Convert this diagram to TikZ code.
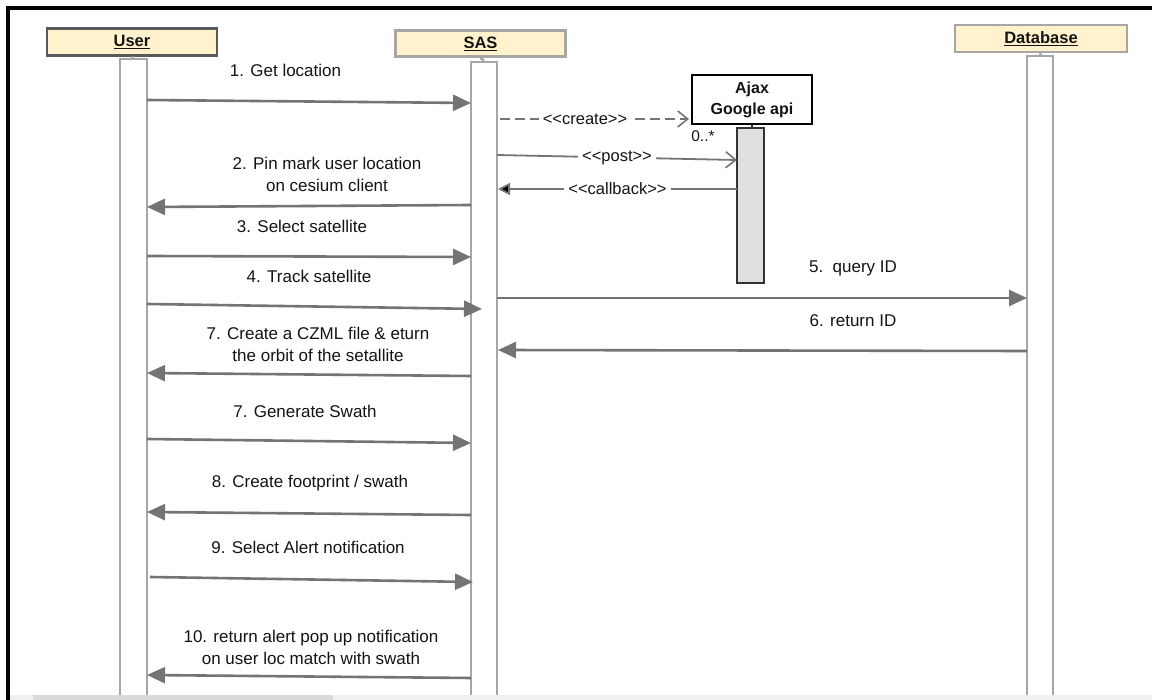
\documentclass[tikz,border=0pt]{standalone}
\usepackage{fontspec}
\setmainfont{Liberation Sans}
\usetikzlibrary{arrows.meta}
\definecolor{hdrfill}{HTML}{FFF2CC}
\definecolor{arrowgray}{HTML}{747474}
\definecolor{lifegray}{HTML}{A6A6A6}
\definecolor{actfill}{HTML}{E0E0E0}
\definecolor{txt}{HTML}{141414}
\definecolor{barlight}{HTML}{F0F0F0}
\definecolor{bardark}{HTML}{DADADA}
\tikzset{
  hdr/.style={draw=lifegray, fill=hdrfill, line width=2.5pt, rectangle, inner sep=0pt,
    font=\fontsize{16.5}{18}\selectfont\bfseries, text=txt},
  lifebox/.style={draw=lifegray, fill=white, line width=2.5pt, rectangle, inner sep=0pt, minimum width=26pt},
  stem/.style={draw=lifegray, line width=2.5pt},
  msg/.style={draw=arrowgray, line width=2.6pt, -{Triangle[length=18pt,width=16pt,fill=arrowgray]}},
  lbl/.style={font=\fontsize{17}{22}\selectfont, text=txt, align=center, inner sep=0pt},
  slbl/.style={font=\fontsize{16.5}{18}\selectfont, text=txt, fill=white, inner sep=4pt},
  openmsg/.style={draw=arrowgray, line width=1.8pt, -{Straight Barb[length=10pt,width=16pt,line width=1.6pt]}},
}
\begin{document}
\begin{tikzpicture}[x=1pt,y=-1pt]
\useasboundingbox (0,0) rectangle (1152,700);
\fill[white] (0,0) rectangle (1152,700);
% frame
\draw[black, line width=4pt] (8,700) -- (8,8) -- (1152,8);

% headers
\node[hdr, draw=black!65, minimum width=170pt, minimum height=27pt] (userh) at (132,42) {\underline{User}};
\node[hdr, minimum width=170pt, minimum height=26pt] (sash) at (480.5,43.5) {\underline{SAS}};
\node[hdr, minimum width=172pt, minimum height=27pt] (dbh) at (1041,38.5) {\underline{Database}};

% lifelines
\node[lifebox, minimum width=27pt, minimum height=650pt, anchor=north] (userl) at (133.5,58) {};
\node[lifebox, minimum height=650pt, anchor=north] (sasl) at (484,61) {};
\node[lifebox, minimum height=650pt, anchor=north] (dbl) at (1040,55) {};
\draw[stem] (userh.south) -- (userl.north);
\draw[stem] (sash.south) -- (sasl.north);
\draw[stem] (dbh.south) -- (dbl.north);

% Ajax object
\node[draw=black, fill=white, line width=1.5pt, minimum width=120pt, minimum height=49pt, inner sep=0pt,
  align=center, font=\fontsize{16}{21}\selectfont\bfseries, text=txt] (ajax) at (752,99.5) {Ajax\\Google api};
\node[draw=black!80, fill=actfill, line width=1.3pt, minimum width=27pt, minimum height=155pt, inner sep=0pt] (ajaxl) at (750.5,205.5) {};
\draw[black!80, line width=1.3pt] (ajax.south) -- (ajax.south |- ajaxl.north);
\node[font=\fontsize{15.5}{16}\selectfont, text=txt, inner sep=0pt] (mult) at (703,136) {0..*};

% coordinates of message ends
\coordinate (c1a) at (500,119);  \coordinate (c1b) at (689,119);
\coordinate (p1a) at (497,155);  \coordinate (p1b) at (737,160);
\coordinate (b1a) at (737,189);  \coordinate (b1b) at (498,189);

\coordinate (m1a) at (147,100);  \coordinate (m1b) at (471,103);
\coordinate (m2a) at (471,205);  \coordinate (m2b) at (147,207);
\coordinate (m3a) at (147,256);  \coordinate (m3b) at (471,257);
\coordinate (m4a) at (147,304);  \coordinate (m4b) at (482,309);
\coordinate (m5a) at (497,298);  \coordinate (m5b) at (1027,298);
\coordinate (m6a) at (1027,351); \coordinate (m6b) at (498,350);
\coordinate (m7a) at (471,376);  \coordinate (m7b) at (147,373);
\coordinate (m8a) at (147,439);  \coordinate (m8b) at (471,443);
\coordinate (m9a) at (471,515);  \coordinate (m9b) at (147,512);
\coordinate (m10a) at (150,577); \coordinate (m10b) at (473,582);
\coordinate (m11a) at (471,678); \coordinate (m11b) at (147,675);

% Ajax messages
\draw[openmsg, dash pattern=on 10pt off 5pt] (c1a) -- (c1b)
  node[slbl, pos=0.45] (clbl) {<{}<create>{}>};
\draw[draw=arrowgray, line width=1.8pt, -{Straight Barb[length=10pt,width=16pt,line width=1.6pt]}] (p1a) -- (p1b)
  node[slbl, pos=0.5] (plbl) {<{}<post>{}>};
\draw[draw=arrowgray, line width=1.8pt, -{Triangle[length=12pt,width=12pt,fill=black]}] (b1a) -- (b1b)
  node[slbl, pos=0.5] (blbl) {<{}<callback>{}>};

% main messages
\draw[msg] (m1a) -- (m1b);
\node[lbl] (l1) at (285.5,70) {1. Get location};
\draw[msg] (m2a) -- (m2b);
\node[lbl] (l2) at (327,174) {2. Pin mark user location\\on cesium client};
\draw[msg] (m3a) -- (m3b);
\node[lbl] (l3) at (302,226) {3. Select satellite};
\draw[msg] (m4a) -- (m4b);
\node[lbl] (l4) at (309,276) {4. Track satellite};
\draw[msg] (m5a) -- (m5b);
\node[lbl] (l5) at (853,268) {5.\ \ query ID};
\draw[msg] (m6a) -- (m6b);
\node[lbl] (l6) at (853,321) {6. return ID};
\draw[msg] (m7a) -- (m7b);
\node[lbl] (l7) at (318,344.5) {7. Create a CZML file \& eturn\\the orbit of the setallite};
\draw[msg] (m8a) -- (m8b);
\node[lbl] (l8) at (305,411) {7. Generate Swath};
\draw[msg] (m9a) -- (m9b);
\node[lbl] (l9) at (310,483) {8. Create footprint / swath};
\draw[msg] (m10a) -- (m10b);
\node[lbl] (l10) at (308,547) {9. Select Alert notification};
\draw[msg] (m11a) -- (m11b);
\node[lbl] (l11) at (311,647) {10. return alert pop up notification\\on user loc match with swath};

% bottom scroll bar
\fill[barlight] (10,695) rectangle (1152,700);
\fill[bardark] (33,695) rectangle (333,700);
\end{tikzpicture}
\end{document}
